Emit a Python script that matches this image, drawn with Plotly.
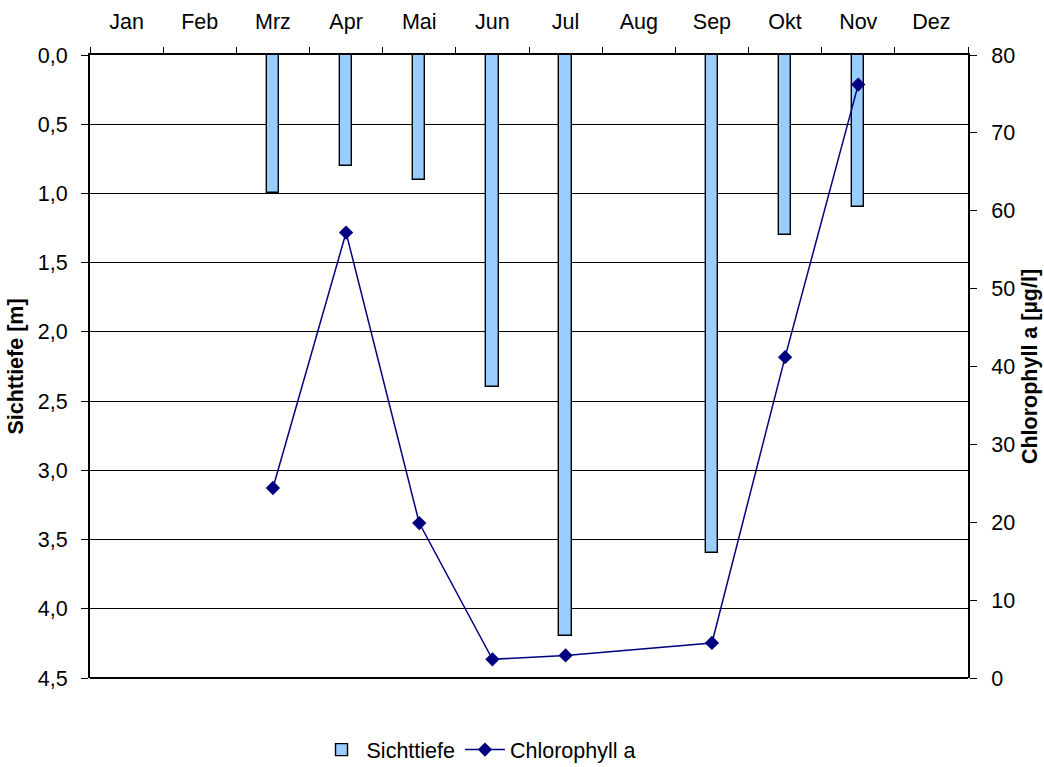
import plotly.graph_objects as go

months = ["Jan", "Feb", "Mrz", "Apr", "Mai", "Jun", "Jul", "Aug", "Sep", "Okt", "Nov", "Dez"]
sichttiefe = [None, None, 1.0, 0.8, 0.9, 2.4, 4.2, None, 3.6, 1.3, 1.1, None]
chlorophyll = [None, None, 24.4, 57.2, 19.9, 2.4, 2.9, None, 4.5, 41.2, 76.2, None]

depth_ticks = [0, 0.5, 1.0, 1.5, 2.0, 2.5, 3.0, 3.5, 4.0, 4.5]
depth_labels = ["0,0", "0,5", "1,0", "1,5", "2,0", "2,5", "3,0", "3,5", "4,0", "4,5"]
chl_ticks = [0, 10, 20, 30, 40, 50, 60, 70, 80]

font = dict(family="Liberation Sans, Arial, sans-serif", size=21.5, color="black")

fig = go.Figure()
fig.add_trace(go.Bar(
    x=months, y=sichttiefe, name="Sichttiefe",
    marker=dict(color="#99CCFF", line=dict(color="black", width=1.4)),
    width=0.17, yaxis="y",
))
# Aug has no sample, the line bridges the gap
fig.add_trace(go.Scatter(
    x=months, y=chlorophyll, name="Chlorophyll a", yaxis="y2",
    mode="lines+markers", connectgaps=True,
    line=dict(color="#000080", width=1.5),
    marker=dict(symbol="diamond", size=11, color="#000080"),
))

fig.update_layout(
    width=1044, height=767,
    margin=dict(l=90, r=76, t=55, b=89, autoexpand=False),
    paper_bgcolor="white", plot_bgcolor="white",
    font=font,
    showlegend=True,
    legend=dict(orientation="h", x=0.258, xanchor="left", y=-0.115, yanchor="middle",
                font=font, tracegroupgap=0, itemwidth=40),
    bargap=0,
    xaxis=dict(
        side="top", type="category", categoryorder="array", categoryarray=months,
        range=[-0.5, 11.5],
        showline=True, linecolor="black", linewidth=1.5,
        ticks="outside", ticklen=6, tickcolor="black", tickson="boundaries",
        ticklabelstandoff=16,
        showgrid=False, tickfont=font,
    ),
    yaxis=dict(
        range=[4.5, 0], tickvals=depth_ticks, ticktext=depth_labels,
        showline=True, linecolor="black", linewidth=2,
        ticks="outside", ticklen=7, tickcolor="black",
        ticklabelstandoff=9,
        showgrid=True, gridcolor="black", gridwidth=1, zeroline=False,
        title=dict(text="<b>Sichttiefe [m]</b>", font=font, standoff=8),
        tickfont=font,
    ),
    yaxis2=dict(
        overlaying="y", side="right", range=[0, 80], tickvals=chl_ticks,
        showline=True, linecolor="black", linewidth=2,
        ticks="outside", ticklen=7, tickcolor="black",
        ticklabelstandoff=10,
        showgrid=False, zeroline=False,
        title=dict(text="<b>Chlorophyll a [µg/l]</b>", font=font, standoff=8),
        tickfont=font,
    ),
)

# bottom border of the plot area
fig.add_shape(type="line", xref="paper", yref="paper", x0=0, x1=1, y0=0, y1=0,
              line=dict(color="black", width=2))

fig.write_html("out.html")
